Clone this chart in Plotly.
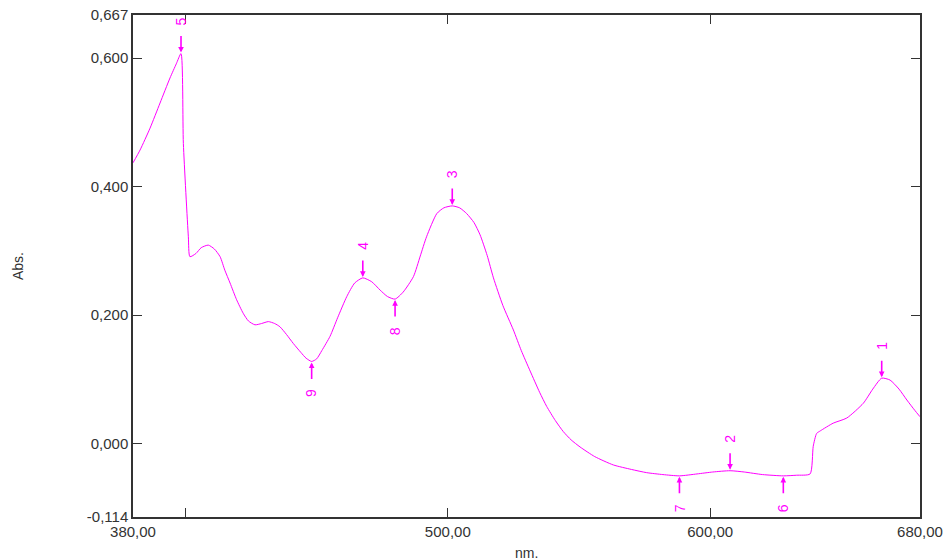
import plotly.graph_objects as go

wavelength = [380.0, 382.7, 386.5, 390.3, 394.1, 396.5, 398.3, 399.2, 401.1, 401.7,
              404, 406, 408.7, 411, 413.2, 415, 417, 419.5, 422, 424, 426.5, 429, 431.6, 434,
              436, 438.5, 441.1, 444, 446, 448.1, 450, 452, 455.1, 458, 461.5, 464.5, 467.6,
              471, 474.2, 477, 479.9, 483, 486.9, 489.5, 491.9, 495.8, 498.5, 501.7, 504.5,
              507.2, 510, 512.3, 515, 517.4, 521, 525, 528, 531.4, 535, 537.7, 541, 544, 547,
              550.4, 556, 563.1, 570, 575.8, 582, 588.3, 595, 601, 607.6, 613, 620, 627.9, 633,
              638.1, 639.3, 640.6, 642, 646.9, 652.1, 658.4, 662, 665.4, 668.6, 672, 675, 678, 680]
absorbance = [0.437, 0.457, 0.491, 0.530, 0.569, 0.591, 0.607, 0.467, 0.322, 0.291,
              0.296, 0.305, 0.309, 0.303, 0.291, 0.270, 0.250, 0.224, 0.203, 0.191, 0.185, 0.187,
              0.190, 0.187, 0.182, 0.170, 0.156, 0.142, 0.133, 0.128, 0.132, 0.145, 0.167, 0.196,
              0.229, 0.250, 0.258, 0.252, 0.239, 0.229, 0.225, 0.236, 0.260, 0.292, 0.322, 0.358,
              0.367, 0.370, 0.367, 0.358, 0.344, 0.325, 0.293, 0.258, 0.215, 0.177, 0.145, 0.113,
              0.080, 0.058, 0.036, 0.019, 0.006, -0.005, -0.020, -0.033, -0.040, -0.045, -0.048,
              -0.050, -0.047, -0.044, -0.042, -0.044, -0.048, -0.050, -0.049, -0.047, -0.004,
              0.016, 0.020, 0.032, 0.040, 0.063, 0.085, 0.102, 0.099, 0.085, 0.068, 0.052, 0.042]

peak_labels = ["1", "2", "3", "4", "5"]
peak_nm = [665.4, 607.6, 501.7, 467.6, 398.3]
peak_abs = [0.102, -0.042, 0.370, 0.258, 0.607]

valley_labels = ["6", "7", "8", "9"]
valley_nm = [627.9, 588.3, 479.9, 448.1]
valley_abs = [-0.050, -0.050, 0.225, 0.128]

x_tickvals = [380, 400, 500, 600, 680]
x_ticktext = ["380,00", "", "500,00", "600,00", "680,00"]
y_tickvals = [-0.114, 0.0, 0.2, 0.4, 0.6, 0.667]
y_ticktext = ["-0,114", "0,000", "0,200", "0,400", "0,600", "0,667"]

MAG = "#ff00ff"
AX = "#333333"
FONT = "Liberation Sans, Arial, sans-serif"

fig = go.Figure()
fig.add_trace(go.Scatter(x=wavelength, y=absorbance, mode="lines",
                         line=dict(color=MAG, width=1, shape="spline", smoothing=0.6),
                         hoverinfo="skip", showlegend=False))

ann = []
for lab, xv, yv in zip(peak_labels, peak_nm, peak_abs):
    ann.append(dict(x=xv, y=yv, xref="x", yref="y", text="", showarrow=True,
                    ax=0, ay=-19, arrowhead=2, arrowsize=0.7, arrowwidth=1.6,
                    arrowcolor=MAG, standoff=1))
    ann.append(dict(x=xv, y=yv, xref="x", yref="y", text=lab, showarrow=False,
                    yshift=32, textangle=-90, font=dict(family=FONT, size=14, color=MAG)))
for lab, xv, yv in zip(valley_labels, valley_nm, valley_abs):
    ann.append(dict(x=xv, y=yv, xref="x", yref="y", text="", showarrow=True,
                    ax=0, ay=19, arrowhead=2, arrowsize=0.7, arrowwidth=1.6,
                    arrowcolor=MAG, standoff=1))
    ann.append(dict(x=xv, y=yv, xref="x", yref="y", text=lab, showarrow=False,
                    yshift=-32, textangle=-90, font=dict(family=FONT, size=14, color=MAG)))

ann.append(dict(x=0.5, y=0, xref="paper", yref="paper", text="nm.", showarrow=False,
                yshift=-36, yanchor="middle", font=dict(family=FONT, size=14, color=AX)))
ann.append(dict(x=0, y=0.5, xref="paper", yref="paper", text="Abs.", showarrow=False,
                xshift=-115, xanchor="center", textangle=-90,
                font=dict(family=FONT, size=14, color=AX)))

fig.update_layout(
    width=945, height=560,
    margin=dict(l=133, r=25, t=15, b=43, autoexpand=False),
    paper_bgcolor="white", plot_bgcolor="white",
    annotations=ann,
    xaxis=dict(range=[380, 680], tickvals=x_tickvals, ticktext=x_ticktext,
               ticks="inside", ticklen=9, tickwidth=1.2, tickcolor=AX,
               showline=True, linecolor=AX, linewidth=1.5, mirror="ticks",
               showgrid=False, zeroline=False, automargin=False,
               tickfont=dict(family=FONT, size=15, color=AX)),
    yaxis=dict(range=[-0.114, 0.667], tickvals=y_tickvals, ticktext=y_ticktext,
               ticks="inside", ticklen=9, tickwidth=1.2, tickcolor=AX,
               showline=True, linecolor=AX, linewidth=1.5, mirror="ticks",
               showgrid=False, zeroline=False, automargin=False,
               tickfont=dict(family=FONT, size=15, color=AX)),
)

fig.write_html("out.html")
